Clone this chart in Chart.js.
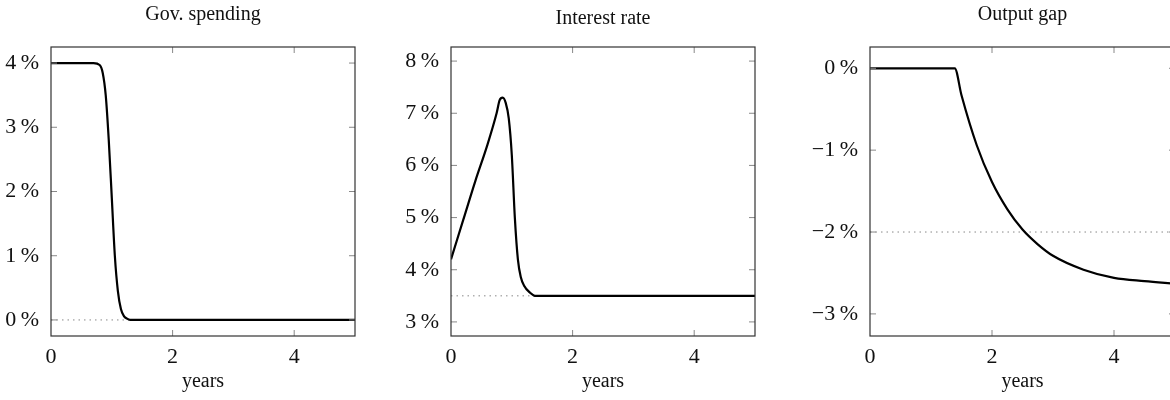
<!DOCTYPE html>
<html>
<head>
<meta charset="utf-8">
<script src="https://cdn.jsdelivr.net/npm/chart.js@4"></script>
<style>
  body { margin: 0; width: 1170px; height: 400px; overflow: hidden; background: #fff; position: relative; }
  .panel { position: absolute; top: 0; height: 400px; }
</style>
</head>
<body>
<div class="panel" style="left:0;width:390px"><canvas id="c1"></canvas></div>
<div class="panel" style="left:390px;width:390px"><canvas id="c2"></canvas></div>
<div class="panel" style="left:780px;width:395px"><canvas id="c3"></canvas></div>
<script>
"use strict"

// Gov. spending
const govX = [0, 0.7, 0.8, 0.85, 0.9, 0.95, 1.0, 1.05, 1.1, 1.15, 1.2, 1.25, 1.3, 5];
const govY = [4, 4, 3.97, 3.85, 3.5, 2.8, 1.9, 1.0, 0.45, 0.17, 0.06, 0.02, 0, 0];

// Interest rate
const rateX = [0, 0.2, 0.4, 0.6, 0.75, 0.8, 0.85, 0.9, 0.95, 1.0, 1.05, 1.1, 1.15, 1.2, 1.3, 1.38, 5];
const rateY = [4.2, 4.95, 5.7, 6.4, 7.0, 7.25, 7.3, 7.2, 6.9, 6.2, 5.0, 4.2, 3.85, 3.7, 3.56, 3.5, 3.5];

// Output gap
const gapX = [0, 1.39, 1.5, 1.75, 2.0, 2.25, 2.5, 2.75, 3.0, 3.5, 4.0, 4.5, 5];
const gapY = [0, 0, -0.33, -0.94, -1.39, -1.72, -1.97, -2.15, -2.29, -2.46, -2.56, -2.60, -2.63];

const titles = ["Gov. spending", "Interest rate", "Output gap"];
const refLevels = [0, 3.5, -2];
const yTicks = [[0, 1, 2, 3, 4], [3, 4, 5, 6, 7, 8], [-3, -2, -1, 0]];
const yRanges = [[-0.25, 4.25], [2.73, 8.27], [-3.27, 0.26]];
const axisWidths = [51, 61, 90];
const rightPads = [35, 25, 0];
const titleYs = [20, 24, 20];

const FONT = "'Liberation Serif', 'DejaVu Serif', serif";

function pts(xs, ys) {
    return xs.map((x, i) => ({x: x, y: ys[i]}));
}

// ticks drawn inward on all four sides, plus title
const framePlugin = {
    id: "frame",
    afterDraw(chart, args, opts) {
        const ctx = chart.ctx;
        const a = chart.chartArea;
        const xs = chart.scales.x, ys = chart.scales.y;
        ctx.save();
        ctx.strokeStyle = "#888";
        ctx.lineWidth = 1;
        ctx.beginPath();
        [2, 4].forEach(v => {
            const px = xs.getPixelForValue(v);
            ctx.moveTo(px, a.bottom); ctx.lineTo(px, a.bottom - 6);
            ctx.moveTo(px, a.top); ctx.lineTo(px, a.top + 6);
        });
        opts.yt.forEach(v => {
            const py = ys.getPixelForValue(v);
            ctx.moveTo(a.left, py); ctx.lineTo(a.left + 6, py);
            ctx.moveTo(a.right, py); ctx.lineTo(a.right - 6, py);
        });
        ctx.stroke();
        ctx.strokeStyle = "#333";
        ctx.lineWidth = 1.2;
        ctx.strokeRect(a.left, a.top, a.right - a.left, a.bottom - a.top);
        ctx.fillStyle = "#111";
        ctx.font = "20px " + FONT;
        ctx.textAlign = "center";
        ctx.textBaseline = "alphabetic";
        const right = Math.min(a.right, 355 + 40 - 40 + (a.right > 380 ? 0 : 0));
        ctx.fillText(opts.title, (a.left + a.right) / 2, opts.ty);
        ctx.restore();
    }
};

function makeChart(id, k, xs, ys) {
    const ctx = document.getElementById(id).getContext("2d");
    return new Chart(ctx, {
        type: "line",
        data: {
            datasets: [{
                data: pts(xs, ys),
                borderColor: "#000",
                borderWidth: 2.2,
                pointRadius: 0,
                cubicInterpolationMode: "monotone",
                order: 1
            }, {
                data: [{x: 0, y: refLevels[k]}, {x: 5, y: refLevels[k]}],
                borderColor: "#888",
                borderWidth: 1,
                borderDash: [1.5, 4],
                pointRadius: 0,
                order: 2
            }]
        },
        plugins: [framePlugin],
        options: {
            responsive: false,
            animation: false,
            layout: { padding: { top: 47, right: rightPads[k], left: 0, bottom: 6 } },
            plugins: {
                legend: { display: false },
                tooltip: { enabled: false },
                frame: { yt: yTicks[k], title: titles[k], ty: titleYs[k] }
            },
            scales: {
                x: {
                    type: "linear",
                    min: 0, max: 5,
                    afterBuildTicks: s => { s.ticks = [0, 2, 4].map(v => ({value: v})); },
                    afterFit: s => { s.height = 58; },
                    grid: { display: false },
                    border: { display: false },
                    ticks: { color: "#111", font: { size: 22, family: FONT }, padding: 0 },
                    title: { display: true, text: "years", color: "#111", font: { size: 20, family: FONT }, padding: 0 }
                },
                y: {
                    min: yRanges[k][0], max: yRanges[k][1],
                    afterBuildTicks: s => { s.ticks = yTicks[k].map(v => ({value: v})); },
                    afterFit: s => { s.width = axisWidths[k]; },
                    grid: { display: false },
                    border: { display: false },
                    ticks: {
                        color: "#111", padding: 4,
                        font: { size: 22, family: FONT },
                        callback: v => (v < 0 ? "\u2212" + (-v) : v) + "\u2009%"
                    }
                }
            }
        }
    });
}

function sizeCanvas(id, w) {
    const c = document.getElementById(id);
    c.width = w; c.height = 400;
    c.style.width = w + "px"; c.style.height = "400px";
}
sizeCanvas("c1", 390); sizeCanvas("c2", 390); sizeCanvas("c3", 395);

makeChart("c1", 0, govX, govY);
makeChart("c2", 1, rateX, rateY);
makeChart("c3", 2, gapX, gapY);
</script>
</body>
</html>
